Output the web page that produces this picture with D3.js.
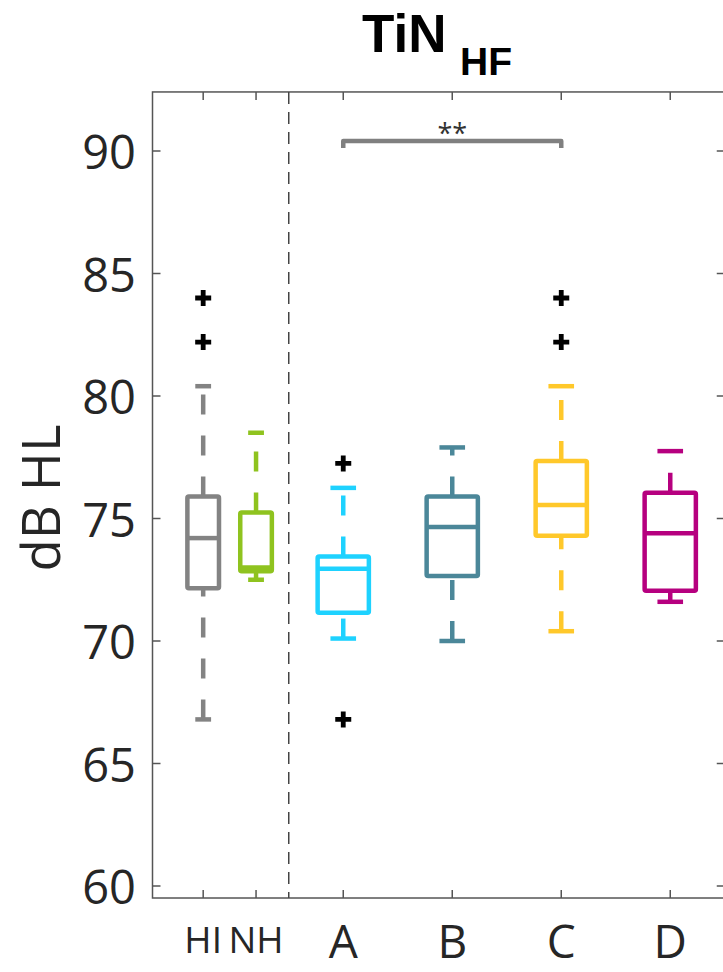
<!DOCTYPE html>
<html>
<head>
<meta charset="utf-8">
<script src="https://cdn.jsdelivr.net/npm/d3@7"></script>
<style>
  html, body { margin: 0; padding: 0; background: #fff; }
  svg { display: block; }
  text { font-family: "Open Sans", "Noto Sans", sans-serif; }
</style>
</head>
<body>
<svg id="chart" width="723" height="972"></svg>
<script>
// ---------------- data ----------------
const categories   = ["HI", "NH", "A", "B", "C", "D"];
const catPositions = [-0.285, 0.2, 1, 2, 3, 4];
const lowerAdj     = [66.8, 72.5, 70.1, 70.0, 70.4, 71.6];
const q1Values     = [72.15, 72.85, 71.15, 72.65, 74.3, 72.05];
const medianValues = [74.2, 73.0, 72.95, 74.65, 75.55, 74.4];
const q3Values     = [75.9, 75.25, 73.45, 75.9, 77.35, 76.05];
const upperAdj     = [80.4, 78.5, 76.25, 77.9, 80.4, 77.75];
const outlierValues = [[82.2, 84.0], [], [66.8, 77.25], [], [82.2, 84.0], []];
const yTicks = [60, 65, 70, 75, 80, 85, 90];
const sigPair = ["A", "C"];
const sigLabel = "**";
const yLabel = "dB HL";

// ---------------- styles ----------------
const colors = ["#838383", "#8fc31f", "#1ed2ff", "#4b8799", "#ffc82a", "#b6007f"];
const boxWidths = [0.29, 0.29, 0.47, 0.47, 0.47, 0.47];

const svg = d3.select("#chart");
const x = d3.scaleLinear().domain([-0.75, 4.5]).range([152.5, 724.75]);
const y = d3.scaleLinear().domain([60, 90]).range([886, 151]);
const yTop = y(92.41), yBot = y(59.51);
const xL = x.range()[0], xR = x.range()[1];
const axisColor = "#555";
const textColor = "#262626";
const lw = 4.5;

// frame
svg.append("rect")
  .attr("x", xL).attr("y", yTop)
  .attr("width", xR - xL).attr("height", yBot - yTop)
  .attr("fill", "none").attr("stroke", axisColor).attr("stroke-width", 1.5);

// y ticks (left and right, inward) + labels
const tickLen = 8;
yTicks.forEach(v => {
  svg.append("line").attr("x1", xL).attr("x2", xL + tickLen)
    .attr("y1", y(v)).attr("y2", y(v)).attr("stroke", axisColor).attr("stroke-width", 1.5);
  svg.append("line").attr("x1", xR).attr("x2", xR - tickLen)
    .attr("y1", y(v)).attr("y2", y(v)).attr("stroke", axisColor).attr("stroke-width", 1.5);
  svg.append("text").attr("x", 136).attr("y", y(v))
    .attr("text-anchor", "end").attr("dominant-baseline", "central")
    .attr("font-size", 47).attr("fill", textColor).text(v);
});

// x ticks (bottom & top, inward) + labels
categories.forEach((c, i) => {
  const px = x(catPositions[i]);
  svg.append("line").attr("x1", px).attr("x2", px)
    .attr("y1", yBot).attr("y2", yBot - tickLen).attr("stroke", axisColor).attr("stroke-width", 1.5);
  svg.append("line").attr("x1", px).attr("x2", px)
    .attr("y1", yTop).attr("y2", yTop + tickLen).attr("stroke", axisColor).attr("stroke-width", 1.5);
  const small = i < 2;
  svg.append("text").attr("x", px).attr("y", small ? 953 : 958)
    .attr("text-anchor", "middle")
    .attr("font-size", small ? 37 : 46).attr("fill", textColor).text(c);
});

// dashed separator
svg.append("line").attr("x1", x(0.5)).attr("x2", x(0.5))
  .attr("y1", yTop).attr("y2", yBot)
  .attr("stroke", "#444").attr("stroke-width", 1.5).attr("stroke-dasharray", "12,8");

// boxplots
categories.forEach((c, i) => {
  const cx = x(catPositions[i]);
  const hw = (x(boxWidths[i]) - x(0)) / 2;
  const cw = hw / 2;
  const col = colors[i];
  const g = svg.append("g").attr("stroke", col).attr("stroke-width", lw).attr("fill", "none");
  // whiskers (drawn from lower value to higher value)
  g.append("path").attr("d", `M${cx},${y(lowerAdj[i])}L${cx},${y(q1Values[i])}`)
    .attr("stroke-dasharray", "20,21");
  g.append("path").attr("d", `M${cx},${y(q3Values[i])}L${cx},${y(upperAdj[i])}`)
    .attr("stroke-dasharray", "20,21");
  // caps
  g.append("line").attr("x1", cx - cw).attr("x2", cx + cw)
    .attr("y1", y(lowerAdj[i])).attr("y2", y(lowerAdj[i]));
  g.append("line").attr("x1", cx - cw).attr("x2", cx + cw)
    .attr("y1", y(upperAdj[i])).attr("y2", y(upperAdj[i]));
  // box
  g.append("rect").attr("x", cx - hw).attr("y", y(q3Values[i]))
    .attr("width", 2 * hw).attr("height", y(q1Values[i]) - y(q3Values[i]))
    .attr("stroke-linejoin", "round").attr("rx", 1.5);
  // median
  g.append("line").attr("x1", cx - hw).attr("x2", cx + hw)
    .attr("y1", y(medianValues[i])).attr("y2", y(medianValues[i]));
  // outliers
  outlierValues[i].forEach(v => {
    const py = y(v), s = 8;
    svg.append("path")
      .attr("d", `M${cx - s},${py}L${cx + s},${py}M${cx},${py - s}L${cx},${py + s}`)
      .attr("stroke", "#000").attr("stroke-width", 4.8).attr("fill", "none");
  });
});

// significance bracket
const xa = x(catPositions[categories.indexOf(sigPair[0])]);
const xc = x(catPositions[categories.indexOf(sigPair[1])]);
svg.append("path")
  .attr("d", `M${xa},${y(90.12)}L${xa},${y(90.41)}L${xc},${y(90.41)}L${xc},${y(90.12)}`)
  .attr("fill", "none").attr("stroke", "#808080").attr("stroke-width", 4.5)
  .attr("stroke-linejoin", "round");
svg.append("text").attr("x", (xa + xc) / 2).attr("y", 143)
  .attr("text-anchor", "middle").attr("font-size", 27).attr("fill", "#333").text(sigLabel);

// y label
svg.append("text")
  .attr("transform", `translate(60,498) rotate(-90)`)
  .attr("text-anchor", "middle").attr("font-size", 53).attr("fill", textColor)
  .text(yLabel);

// title
const title = svg.append("text").attr("x", 362).attr("y", 52)
  .attr("font-weight", "bold").attr("fill", "#000")
  .style("font-family", "'Liberation Sans', Arial, sans-serif");
title.append("tspan").attr("font-size", 53).text("TiN");
title.append("tspan").attr("x", 460).attr("y", 75).attr("font-size", 39).text("HF");
</script>
</body>
</html>
